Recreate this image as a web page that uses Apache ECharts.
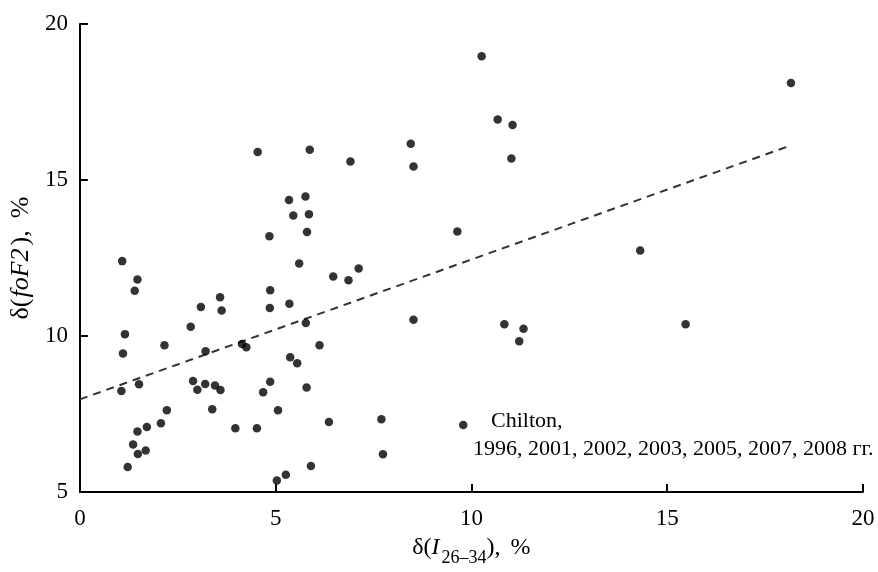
<!DOCTYPE html>
<html>
<head>
<meta charset="utf-8">
<script src="https://cdn.jsdelivr.net/npm/echarts@6/dist/echarts.min.js"></script>
<style>html,body{margin:0;padding:0;background:#fff;}#c{width:878px;height:572px;}</style>
</head>
<body>
<div id="c"></div>
<script>
// δ(I26–34), %
var xValues = [4.54,5.87,6.91,5.34,5.76,5.45,5.85,4.84,5.80,10.26,10.67,11.05,11.02,8.45,8.52,9.64,18.16,14.31,
  1.08,1.47,1.40,5.60,6.47,6.86,7.12,4.86,3.09,3.58,3.62,4.85,5.35,2.83,1.15,5.77,1.10,2.16,3.21,4.14,4.25,6.12,
  5.37,5.55,1.06,1.51,2.89,3.00,3.20,3.45,3.59,4.86,4.68,5.79,2.22,3.38,5.06,6.36,2.07,1.71,1.47,3.97,4.52,
  1.36,1.48,1.68,1.22,5.90,5.26,5.03,8.52,7.70,7.74,9.79,10.84,11.33,11.22,15.47];
// δ(foF2), %
var yValues = [15.90,15.97,15.59,14.36,14.47,13.86,13.90,13.20,13.33,18.97,16.94,16.76,15.69,16.16,15.43,13.35,18.11,12.74,
  12.40,11.81,11.45,12.32,11.91,11.79,12.16,11.47,10.93,11.24,10.82,10.90,11.03,10.30,10.06,10.42,9.44,9.70,9.51,9.74,9.64,9.70,
  9.32,9.13,8.24,8.45,8.56,8.28,8.46,8.41,8.27,8.53,8.20,8.35,7.62,7.65,7.62,7.24,7.20,7.08,6.94,7.04,7.04,
  6.52,6.22,6.33,5.80,5.83,5.55,5.37,10.52,7.33,6.21,7.15,10.38,10.23,9.83,10.38];
// regression line end points
var fitX = [0, 18.14];
var fitY = [7.97, 16.10];
var xTicks = [0, 5, 10, 15, 20];
var yTicks = [5, 10, 15, 20];
var noteLines = ['Chilton,', '1996, 2001, 2002, 2003, 2005, 2007, 2008 гг.'];

var pts = xValues.map(function (x, i) { return [x, yValues[i]]; });
var fit = fitX.map(function (x, i) { return [x, fitY[i]]; });

var FONT = '"Liberation Serif", "Times New Roman", serif';
var chart = echarts.init(document.getElementById('c'), null, {renderer: 'canvas'});
chart.setOption({
  animation: false,
  backgroundColor: '#fff',
  grid: {left: 79, right: 15, top: 24, bottom: 76, containLabel: false},
  xAxis: {
    type: 'value', min: xTicks[0], max: xTicks[xTicks.length - 1], interval: 5,
    axisLine: {show: true, onZero: false, lineStyle: {color: '#000', width: 2}},
    axisTick: {show: true, inside: true, length: 8, lineStyle: {color: '#000', width: 2}},
    splitLine: {show: false},
    axisLabel: {color: '#000', fontFamily: FONT, fontSize: 23, margin: 15},
    name: '{n|δ(}{i|I}{s|26–34}{n|),}{p|%}',
    nameLocation: 'middle', nameGap: 40,
    nameTextStyle: {
      rich: {
        n: {fontFamily: FONT, fontSize: 24, color: '#000', lineHeight: 28, verticalAlign: 'bottom'},
        p: {fontFamily: FONT, fontSize: 24, color: '#000', lineHeight: 28, verticalAlign: 'bottom', padding: [0, 0, 0, 10]},
        i: {fontFamily: FONT, fontSize: 24, fontStyle: 'italic', color: '#000', lineHeight: 28, verticalAlign: 'bottom', padding: [0, 2, 0, 0]},
        s: {fontFamily: FONT, fontSize: 18, color: '#000', lineHeight: 28, verticalAlign: 'bottom', padding: [0, 0, -7, 0]}
      }
    }
  },
  yAxis: {
    type: 'value', min: yTicks[0], max: yTicks[yTicks.length - 1], interval: 5,
    axisLine: {show: true, onZero: false, lineStyle: {color: '#000', width: 2}},
    axisTick: {show: true, inside: true, length: 8, lineStyle: {color: '#000', width: 2}},
    splitLine: {show: false},
    axisLabel: {color: '#000', fontFamily: FONT, fontSize: 23, margin: 12},
    name: '{n|δ(}{i|foF2}{n|),}{p|%}',
    nameLocation: 'middle', nameGap: 35,
    nameTextStyle: {
      rich: {
        n: {fontFamily: FONT, fontSize: 26, color: '#000'},
        p: {fontFamily: FONT, fontSize: 26, color: '#000', padding: [0, 0, 0, 12]},
        i: {fontFamily: FONT, fontSize: 26, fontStyle: 'italic', color: '#000', padding: [0, 3, 0, 1]}
      }
    }
  },
  series: [
    {
      type: 'scatter', data: pts, symbol: 'circle', symbolSize: 8.5,
      itemStyle: {color: '#000'}, z: 3
    },
    {
      type: 'line', data: fit, showSymbol: false, symbol: 'none',
      lineStyle: {color: '#333', width: 2, type: [8, 6]}, z: 2
    }
  ],
  graphic: [
    {type: 'text', left: 491, top: 410, style: {text: noteLines[0], font: '22px ' + FONT, fill: '#000'}},
    {type: 'text', left: 473, top: 438, style: {text: noteLines[1], font: '22px ' + FONT, fill: '#000'}}
  ]
});
</script>
</body>
</html>
